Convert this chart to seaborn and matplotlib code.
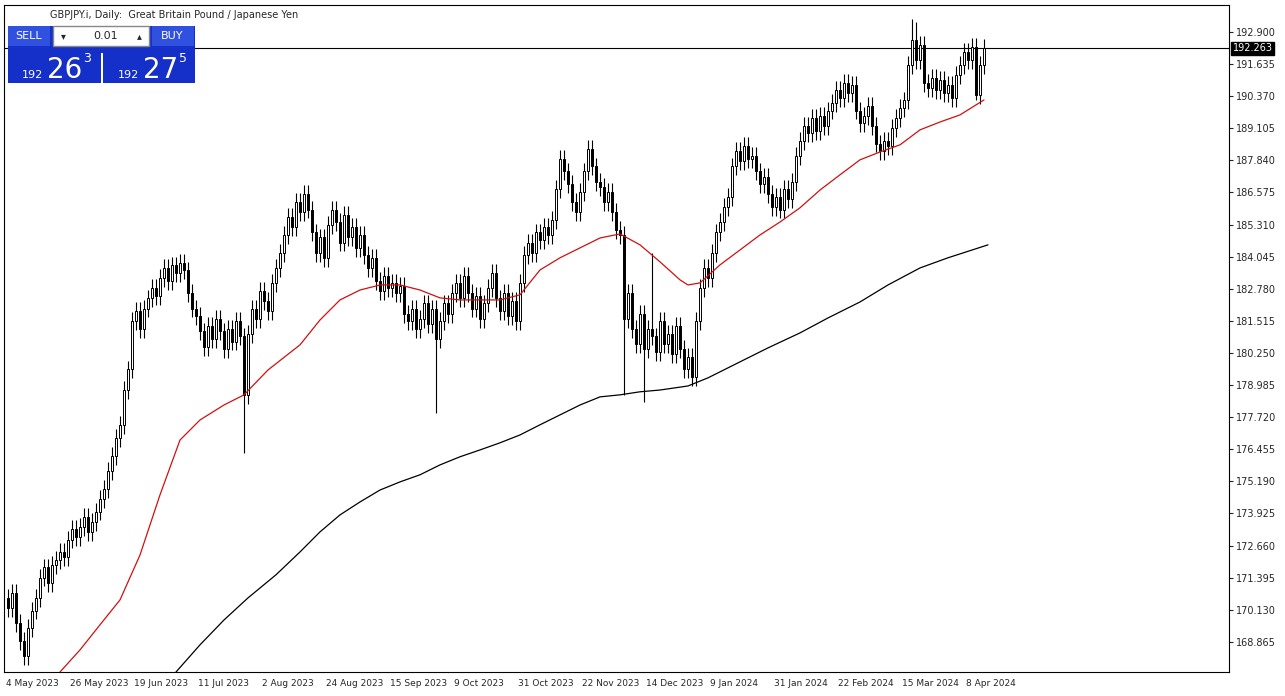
import numpy as np
import matplotlib.pyplot as plt
import seaborn as sns
from matplotlib.patches import Rectangle

# daily closes, GBPJPY
closes = [170.2, 170.8, 169.6, 168.9, 168.3, 169.4,
          170.1, 170.6, 171.4, 171.8, 171.2, 171.9, 172.1,
          172.4, 172.2, 172.9, 173.3, 173.0, 173.4, 173.8, 173.2, 173.6, 174.0, 174.5,
          174.9, 175.6, 176.2, 176.9, 177.4, 178.8, 179.6,
          181.5, 181.9, 181.2, 182.0, 182.4, 182.8, 182.5,
          183.2, 183.6, 183.1, 183.7, 183.4, 183.8, 183.5, 182.6, 182.0,
          181.7, 181.1, 180.5, 181.3, 180.8, 181.6, 181.1, 180.4, 181.2, 180.7, 181.5, 180.9, 178.6,
          181.0, 182.0, 181.6, 182.7, 182.3, 181.9, 183.0,
          183.6, 184.2, 184.9, 185.6, 185.2, 186.2, 185.8, 186.5, 185.9,
          185.0, 184.2, 184.8, 184.0, 185.3, 185.9,
          185.4, 184.6, 185.7, 184.8, 185.2, 184.4, 184.9,
          184.1, 183.6, 184.0, 183.1, 182.7, 183.3, 182.8, 183.0, 182.6, 182.9,
          181.8, 181.5, 182.0, 181.2, 181.6, 182.2, 181.4, 182.0, 180.8,
          181.5, 182.2, 181.8, 182.6, 183.0, 182.4, 183.3, 182.6,
          182.0, 182.5, 181.6, 182.2, 182.8, 183.4, 182.4, 181.9, 182.6, 181.7, 182.3, 181.5,
          183.0, 184.1, 184.6, 184.2, 185.0, 184.7,
          185.2, 184.9, 185.5, 186.7,
          187.9, 187.4, 186.9,
          186.2, 185.8, 186.6, 187.4, 188.3,
          187.6, 187.0, 186.8, 186.2, 186.6, 185.8, 185.1,
          184.9, 181.6,
          182.6, 181.2, 180.6, 181.8, 180.4, 181.2, 180.9, 180.3, 181.5, 180.6,
          181.0, 180.2, 181.3, 180.4, 179.6, 180.1, 179.3, 181.5,
          182.8, 183.6, 183.2, 184.2, 185.0, 185.4,
          186.0, 186.4, 187.6, 188.2,
          187.8, 188.4, 187.9, 188.0, 187.4, 186.9,
          187.2, 186.5, 186.0, 186.4, 185.9, 186.7, 186.3, 187.0,
          188.0, 188.6, 189.2, 188.9, 189.5,
          189.0, 189.6, 189.2, 189.8, 190.1, 190.6, 190.3,
          190.9, 190.5, 190.8, 189.8, 189.3,
          189.6, 190.0, 189.2, 188.5, 188.2, 188.6, 188.4, 189.1,
          189.5, 189.9, 190.2, 191.6, 192.6,
          191.8, 192.4, 190.9,
          190.7, 191.1, 190.6, 191.0, 190.5, 190.8, 190.3, 191.2,
          191.6, 192.1, 191.8, 192.3, 190.4, 191.6, 192.26]
first_open = 170.6
# bars with long wicks: index -> (low, high)
long_wicks = {59: (176.3, None), 107: (177.9, None), 154: (178.6, None),
              159: (178.3, None), 161: (None, 184.2), 226: (None, 193.4),
              227: (None, 193.3), 242: (190.2, None)}

ma50_bar = [13, 18, 23, 28, 33, 38, 43, 48, 54, 59, 65, 73, 78, 83, 88, 93, 98, 103, 108, 113, 123, 128,
            133, 138, 143, 148, 153, 158, 163, 168, 170, 173, 178, 183, 188, 193, 198, 203, 208, 213, 218,
            223, 228, 233, 238, 244]
ma50_val = [167.68, 168.55, 169.54, 170.52, 172.29, 174.66, 176.82, 177.61, 178.20, 178.60, 179.58, 180.57,
            181.55, 182.34, 182.73, 182.93, 182.93, 182.73, 182.42, 182.34, 182.34, 182.54, 183.52, 184.00,
            184.39, 184.78, 184.94, 184.51, 183.84, 183.13, 182.93, 183.01, 183.72, 184.31, 184.90, 185.41,
            185.97, 186.67, 187.27, 187.86, 188.17, 188.45, 189.04, 189.35, 189.63, 190.22]
ma200_bar = [42, 48, 54, 60, 67, 73, 78, 83, 88, 93, 98, 103, 108, 113, 118, 123, 128, 133, 138, 143, 148,
             153, 158, 163, 170, 175, 183, 190, 198, 205, 213, 220, 228, 235, 245]
ma200_val = [167.68, 168.75, 169.73, 170.60, 171.51, 172.41, 173.20, 173.87, 174.38, 174.85, 175.17, 175.45,
             175.84, 176.16, 176.43, 176.71, 177.02, 177.42, 177.81, 178.20, 178.52, 178.60, 178.72, 178.79,
             178.95, 179.27, 179.90, 180.45, 181.04, 181.63, 182.26, 182.93, 183.60, 184.00, 184.51]

date_labels = ["4 May 2023", "26 May 2023", "19 Jun 2023", "11 Jul 2023", "2 Aug 2023", "24 Aug 2023",
               "15 Sep 2023", "9 Oct 2023", "31 Oct 2023", "22 Nov 2023", "14 Dec 2023", "9 Jan 2024",
               "31 Jan 2024", "22 Feb 2024", "15 Mar 2024", "8 Apr 2024"]
price_ticks = [192.900, 191.635, 190.370, 189.105, 187.840, 186.575, 185.310, 184.045, 182.780, 181.515,
               180.250, 178.985, 177.720, 176.455, 175.190, 173.925, 172.660, 171.395, 170.130, 168.865]
last_price = 192.263

sns.set_style("white")
fig = plt.figure(figsize=(12.85, 6.96), dpi=100)
ax = fig.add_axes([4 / 1285, 24 / 696, 1225 / 1285, 667 / 696])

closes = np.array(closes)
opens = np.concatenate([[first_open], closes[:-1]])
x = np.arange(len(closes))
for i in x:
    o, c = opens[i], closes[i]
    lo, hi = min(o, c) - 0.35, max(o, c) + 0.35
    if i in long_wicks:
        l2, h2 = long_wicks[i]
        lo = l2 if l2 is not None else lo
        hi = h2 if h2 is not None else hi
    ax.vlines(i, lo, hi, color="black", lw=0.8, zorder=2)
    bottom = min(o, c)
    height = max(abs(c - o), 0.03)
    ax.bar(i, height, bottom=bottom, width=0.6, color="white" if c >= o else "black",
           edgecolor="black", lw=0.7, zorder=3)

sns.lineplot(x=ma50_bar, y=ma50_val, color="#d01010", lw=0.9, ax=ax, zorder=4)
sns.lineplot(x=ma200_bar, y=ma200_val, color="black", lw=0.9, ax=ax, zorder=4)
ax.axhline(last_price, color="black", lw=0.8, zorder=1)

ax.set_xlim(-1, 305.25)
ax.set_ylim(167.68, 193.96)
ax.yaxis.tick_right()
ax.set_yticks(price_ticks)
ax.set_yticklabels([f"{p:.3f}" for p in price_ticks], fontsize=7)
ax.set_xticks(np.arange(len(date_labels)) * 16 - 0.5)
ax.set_xticklabels(date_labels, fontsize=6.5, ha="left")
ax.tick_params(length=3, pad=2)
for s in ax.spines.values():
    s.set_linewidth(0.8)
    s.set_color("black")
ax.text(1.003, last_price, f"{last_price:.3f}", transform=ax.get_yaxis_transform(), fontsize=7,
        color="white", va="center", ha="left", bbox=dict(boxstyle="square,pad=0.15", fc="black", ec="black"))

fig.text(50 / 1285, 1 - 15 / 696, "GBPJPY.i, Daily:  Great Britain Pound / Japanese Yen", fontsize=7, va="center")

# trade panel
def fbox(x0, y0, w, h, fc, ec="none"):
    fig.patches.append(Rectangle((x0 / 1285, 1 - (y0 + h) / 696), w / 1285, h / 696,
                                 transform=fig.transFigure, fc=fc, ec=ec, zorder=5))
fbox(8, 26, 187, 57, "#1530c8")
fbox(8, 26, 42, 20, "#3050e0")
fbox(152, 26, 42, 20, "#3050e0")
fbox(53, 26, 96, 20, "white", "#888888")
fbox(101, 53, 2, 30, "white")

def ftext(x0, y0, s, **kw):
    fig.text(x0 / 1285, 1 - y0 / 696, s, zorder=10, **kw)

ftext(29, 36, "SELL", color="white", fontsize=8, ha="center", va="center")
ftext(172, 36, "BUY", color="white", fontsize=8, ha="center", va="center")
ftext(118, 36, "0.01", fontsize=8, ha="right", va="center")
ftext(63, 36, "▾", fontsize=7, ha="center", va="center")
ftext(139, 36, "▴", fontsize=7, ha="center", va="center")
for x0, big, sm in [(22, "26", "3"), (118, "27", "5")]:
    ftext(x0, 78, "192", color="white", fontsize=8, va="baseline")
    ftext(x0 + 25, 78, big, color="white", fontsize=20, va="baseline")
    ftext(x0 + 61, 62, sm, color="white", fontsize=9, va="baseline")

fig.savefig("out.png", dpi=100)
